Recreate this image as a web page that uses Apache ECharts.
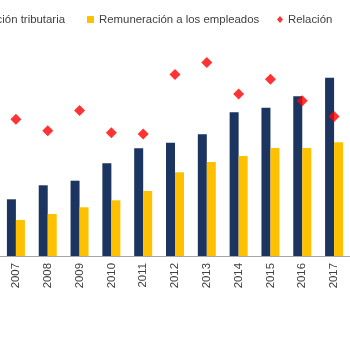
<!DOCTYPE html>
<html>
<head>
<meta charset="utf-8">
<script src="https://cdn.jsdelivr.net/npm/echarts@6/dist/echarts.min.js"></script>
<style>
html,body{margin:0;padding:0;background:#fff;}
#main{width:350px;height:350px;}
</style>
</head>
<body>
<div id="main"></div>
<script>
// datos
var years = ['2007','2008','2009','2010','2011','2012','2013','2014','2015','2016','2017'];
var recaudacion = [56.7, 70.7, 75.3, 92.7, 107.7, 113.3, 121.7, 143.7, 148.3, 159.7, 178.3];
var remuneracion = [36, 42, 48.7, 55.7, 65, 83.7, 94, 100, 108, 108, 113.7];
var relacion = [64.2, 61.3, 66.4, 60.8, 60.5, 75.4, 78.4, 70.5, 74.2, 68.8, 64.9];

var font = 'Liberation Sans, Arial, sans-serif';
var txt = {color:'#404040', fontSize:11.4, fontFamily:font};

var myChart = echarts.init(document.getElementById('main'));
var option = {
	animation:false,
	legend:[{
		data:[{name:'Recaudación tributaria', icon:'rect'}],
		right:285, top:14, padding:0, itemWidth:7, itemHeight:7, itemGap:4,
		textStyle:txt
	},{
		data:[{name:'Remuneración a los empleados', icon:'rect'}],
		left:87, top:14, padding:0, itemWidth:7, itemHeight:7, itemGap:4,
		textStyle:txt
	},{
		data:[{name:'Relación', icon:'diamond'}],
		left:277, top:14, padding:0, itemWidth:6, itemHeight:7, itemGap:4,
		textStyle:txt
	}],
	grid:{left:-4, right:-1, top:56, bottom:94},
	xAxis:{
		type:'category',
		data:years,
		axisLine:{lineStyle:{color:'#a6a6a6'}},
		axisTick:{length:5, lineStyle:{color:'#a6a6a6'}},
		axisLabel:{rotate:90, margin:7, color:'#404040', fontSize:11.4, fontFamily:font}
	},
	yAxis:[{
		type:'value', min:0, max:200, show:false, splitLine:{show:false}
	},{
		type:'value', min:30, max:80, show:false, splitLine:{show:false}
	}],
	series:[{
		name:'Recaudación tributaria',
		type:'bar',
		barWidth:9,
		barGap:'0%',
		itemStyle:{color:'#1b3560'},
		data:recaudacion
	},{
		name:'Remuneración a los empleados',
		type:'bar',
		barWidth:9,
		itemStyle:{color:'#ffc000'},
		data:remuneracion
	},{
		name:'Relación',
		type:'scatter',
		yAxisIndex:1,
		symbol:'diamond',
		symbolSize:11,
		z:5,
		itemStyle:{color:'#ff0000'},
		data:relacion
	}]
};
myChart.setOption(option);
</script>
</body>
</html>
